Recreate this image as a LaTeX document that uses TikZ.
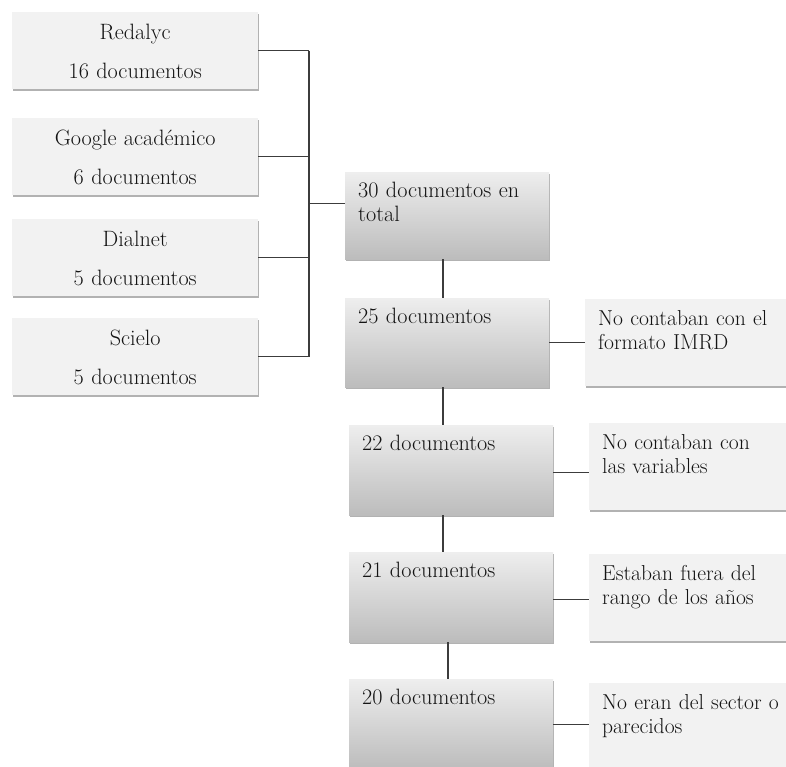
\documentclass[tikz,border=0pt]{standalone}
\usepackage{fontspec}
\usetikzlibrary{shadows,calc}
\definecolor{boxfill}{RGB}{242,242,242}
\definecolor{gtop}{RGB}{238,238,238}
\definecolor{gbot}{RGB}{188,188,188}
\definecolor{linec}{RGB}{60,60,60}
\definecolor{txtc}{RGB}{20,20,20}
\begin{document}
\begin{tikzpicture}[x=1pt,y=-1pt,
  shad/.style={drop shadow={shadow xshift=0.6pt,shadow yshift=-2.2pt,opacity=0.3,fill=black}},
  srcbox/.style={shad, fill=boxfill, draw=none, anchor=north west, inner sep=0pt,
    text width=246pt, align=center, text height=27pt, text depth=50pt, text=txtc,
    font=\fontsize{22.2}{39}\selectfont},
  stepbox/.style={shad, top color=gtop, bottom color=gbot, draw=none, anchor=north west,
    inner xsep=13pt, inner ysep=0pt, text width=178pt, align=left, text=txtc,
    text height=25pt, text depth=63pt, font=\fontsize{22.2}{24.5}\selectfont},
  notebox/.style={shad, fill=boxfill, draw=none, anchor=north west,
    inner xsep=13pt, inner ysep=0pt, text width=200pt, align=left, text=txtc,
    text height=26pt, text depth=61pt, font=\fontsize{21.6}{24.5}\selectfont},
  conn/.style={draw=linec, line width=1.2pt}
]
\clip (0,0) rectangle (786,766);
\fill[white] (0,0) rectangle (786,766);

% source boxes
\node[srcbox] (S1) at (12,12) {Redalyc\\16 documentos};
\node[srcbox] (S2) at (12,118) {Google académico\\6 documentos};
\node[srcbox] (S3) at (12,219) {Dialnet\\5 documentos};
\node[srcbox] (S4) at (12,318) {Scielo\\5 documentos};

% main steps
\node[stepbox, text depth=62pt] (B30) at (345,172) {30 documentos en\\total};
\node[stepbox, text depth=64pt] (B25) at (345,298) {25 documentos};
\node[stepbox, text depth=65pt] (B22) at (349,425) {22 documentos};
\node[stepbox, text depth=65pt] (B21) at (349,552) {21 documentos};
\node[stepbox, text depth=65pt] (B20) at (349,679) {20 documentos};

% notes
\node[notebox] (R25) at (585,299) {No contaban con el\\formato IMRD};
\node[notebox] (R22) at (589,423) {No contaban con\\las variables};
\node[notebox] (R21) at (589,554) {Estaban fuera del\\rango de los años};
\node[notebox] (R20) at (589,683) {No eran del sector o\\parecidos};

% bracket
\coordinate (brk) at (309,0);
\draw[conn] (S1.east) -- (S1.east -| brk);
\draw[conn] (S2.east) -- (S2.east -| brk);
\draw[conn] (S3.east) -- (S3.east -| brk);
\draw[conn] (S4.east) -- (S4.east -| brk);
\draw[conn] (S1.east -| brk) -- (S4.east -| brk);
\coordinate (bm) at ($(S1.east -| brk)!0.5!(S4.east -| brk)$);
\draw[conn] (bm) -- (bm -| B30.west);

% vertical chain
\coordinate (v1) at (443,0);
\coordinate (v2) at (448,0);
\draw[conn] (B30.south -| v1) -- (B25.north -| v1);
\draw[conn] (B25.south -| v1) -- (B22.north -| v1);
\draw[conn] (B22.south -| v1) -- (B21.north -| v1);
\draw[conn] (B21.south -| v2) -- (B20.north -| v2);

% side connectors
\draw[conn] (B25.east) -- (B25.east -| R25.west);
\draw[conn] ([yshift=-2pt]B22.east) -- ([yshift=-2pt]B22.east -| R22.west);
\draw[conn] ([yshift=-2pt]B21.east) -- ([yshift=-2pt]B21.east -| R21.west);
\draw[conn] (B20.east) -- (B20.east -| R20.west);
\end{tikzpicture}
\end{document}
